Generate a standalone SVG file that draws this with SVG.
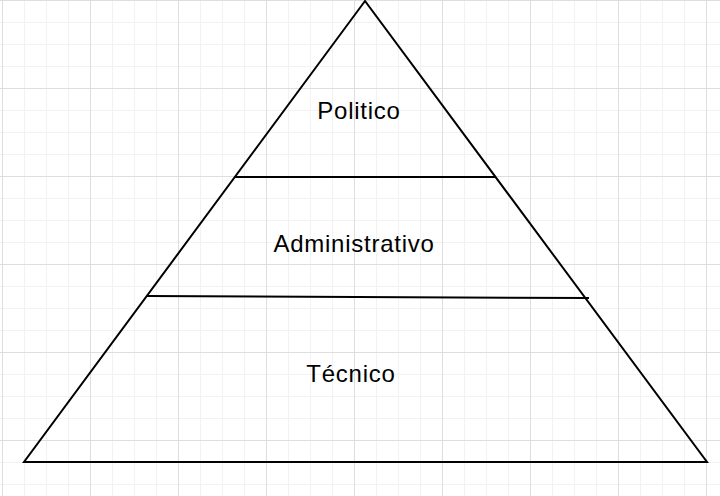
<svg xmlns="http://www.w3.org/2000/svg" width="720" height="496" viewBox="0 0 720 496">
  <style>
    .edge { fill: none; stroke: #000; stroke-width: 2; stroke-linejoin: miter; }
    .label { font-family: "Liberation Sans", Arial, Helvetica, sans-serif; font-size: 24px; fill: #000; text-anchor: middle; letter-spacing: 0.75px; }
  </style>
  <defs>
    <pattern id="grid" patternUnits="userSpaceOnUse" x="2" y="0" width="88" height="88">
      <rect width="88" height="88" fill="#ffffff"/>
      <g stroke="#f2f2f2" stroke-width="1">
        <line x1="22.5" y1="0" x2="22.5" y2="88"/>
        <line x1="44.5" y1="0" x2="44.5" y2="88"/>
        <line x1="66.5" y1="0" x2="66.5" y2="88"/>
        <line x1="0" y1="22.5" x2="88" y2="22.5"/>
        <line x1="0" y1="44.5" x2="88" y2="44.5"/>
        <line x1="0" y1="66.5" x2="88" y2="66.5"/>
      </g>
      <g stroke="#dedede" stroke-width="1">
        <line x1="0.5" y1="0" x2="0.5" y2="88"/>
        <line x1="0" y1="0.5" x2="88" y2="0.5"/>
      </g>
    </pattern>
  </defs>
  <rect width="720" height="496" fill="url(#grid)"/>
  <g id="pyramid">
    <polygon class="edge" points="365,1 24,462 707,462"/>
  </g>
  <g id="politico">
    <text class="label" x="359" y="119">Politico</text>
  </g>
  <g id="administrativo">
    <line class="edge" x1="235" y1="177" x2="496" y2="177"/>
    <text class="label" x="354" y="252">Administrativo</text>
  </g>
  <g id="tecnico">
    <line class="edge" x1="147" y1="296" x2="589" y2="298"/>
    <text class="label" x="351" y="382">Técnico</text>
  </g>
  <g id="connectors"/>
</svg>
